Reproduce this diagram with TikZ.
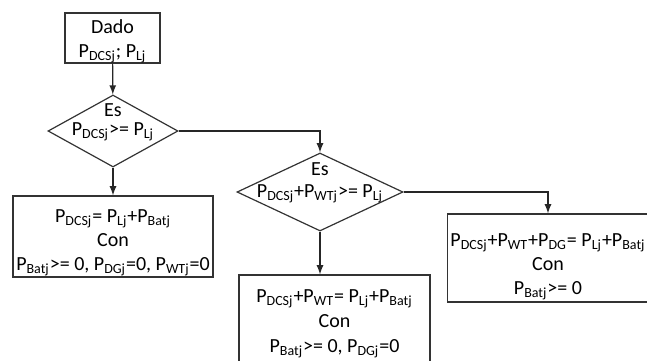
\documentclass[tikz,border=0pt]{standalone}
\usepackage{fontspec}
\setmainfont{Carlito}
\usepackage{tikz}
\usetikzlibrary{positioning, arrows, shapes}

\newcommand{\Pw}[1]{P\textsubscript{#1}}

\tikzset{
  caja/.style={rectangle, draw=black!80, line width=0.6pt, inner sep=0pt},
  rombo/.style={diamond, draw=black!80, line width=0.6pt, inner sep=0pt},
  txt/.style={inner sep=0pt, align=center},
  flecha/.style={-latex, draw=black!85, line width=0.6pt}
}

\begin{document}
\begin{tikzpicture}[x=0.5pt, y=-0.5pt, font=\fontsize{10}{12}\selectfont]
            \useasboundingbox (0,0) rectangle (647,360);
            \clip (0,0) rectangle (647,360);

            \node[caja, minimum width=47.5pt, minimum height=25pt] (dado) at (112.5, 38) {};
            \node[txt] (dadotxt) at (112.5, 41) {Dado\\ \Pw{DCSj}; \Pw{Lj}};

            \node[rombo, minimum width=65pt, minimum height=36pt] (r1) at (113, 131) {};
            \node[txt] (r1es) at (113, 110) {Es};
            \node[txt] (r1txt) at (113, 132) {\Pw{DCSj}>= \Pw{Lj}};

            \node[caja, minimum width=100pt, minimum height=40.5pt] (c1) at (113, 236.5) {};
            \node[txt] (c1txt) at (113, 243) {\Pw{DCSj}= \Pw{Lj}+\Pw{Batj}\\ Con\\ \Pw{Batj}>= 0, \Pw{DGj}=0, \Pw{WTj}=0};

            \node[rombo, minimum width=83pt, minimum height=39pt] (r2) at (320, 192) {};
            \node[txt] (r2es) at (320, 169) {Es};
            \node[txt] (r2txt) at (320, 194) {\Pw{DCSj}+\Pw{WTj}>= \Pw{Lj}};

            \node[caja, minimum width=95.5pt, minimum height=46.5pt] (c2) at (334.5, 321.5) {};
            \node[txt] (c2txt) at (334.5, 324) {\Pw{DCSj}+\Pw{WT}= \Pw{Lj}+\Pw{Batj}\\[0.5pt] Con\\[0.5pt] \Pw{Batj}>= 0, \Pw{DGj}=0};

            \node[caja, minimum width=102pt, minimum height=44pt] (c3) at (549.5, 258) {};
            \node[txt] (c3txt) at (548, 267) {\Pw{DCSj}+\Pw{WT}+\Pw{DG}= \Pw{Lj}+\Pw{Batj}\\ Con\\ \Pw{Batj}>= 0};

            \draw[flecha] (dado) -- (r1);
            \draw[flecha] (r1) -- (c1);
            \draw[flecha] (r1.east) -| (r2.north);
            \draw[flecha] (r2) -- (c2.north -| r2.south);
            \draw[flecha] (r2.east) -| (c3.north -| 548,0);
        \end{tikzpicture}
\end{document}
